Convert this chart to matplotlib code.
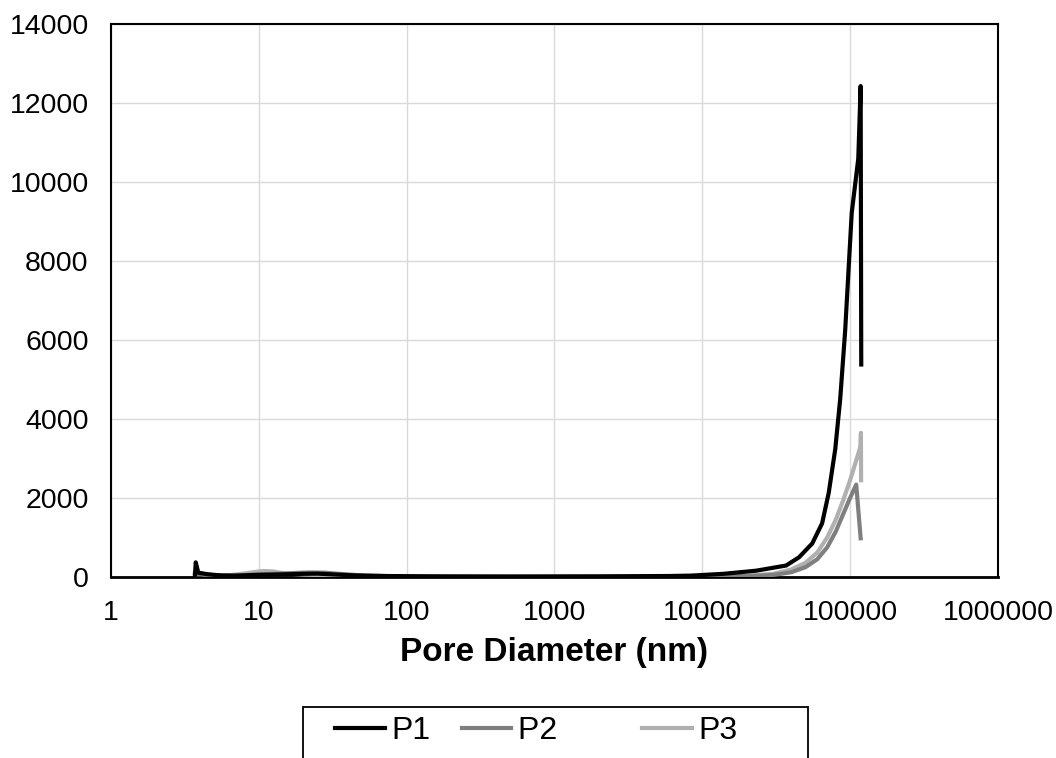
import matplotlib.pyplot as plt
from matplotlib.patches import Rectangle

plt.rcParams['font.family'] = ['Liberation Sans', 'DejaVu Sans']

# datos (diametro de poro en nm)
p1_x = [3.7, 3.75, 3.9, 4.5, 5.5, 7, 9, 12, 16, 20, 25, 32, 45, 70, 150, 500, 2000, 6000,
        8400, 13900, 23200, 36900, 45200, 55500, 64700, 71700, 79400, 85800, 92600,
        102600, 113600, 117900, 119000]
p1_y = [0, 370, 110, 70, 40, 35, 50, 60, 70, 80, 85, 65, 40, 25, 15, 10, 15, 25,
        35, 80, 160, 290, 500, 850, 1360, 2130, 3240, 4520, 6230,
        9220, 10590, 12430, 5380]

p2_x = [3.7, 4, 5, 6.5, 8, 10, 13, 17, 22, 28, 35, 50, 80, 200, 1000, 5000, 10000,
        20000, 30000, 40000, 50000, 60000, 70000, 80000, 90000, 100000, 110000, 117900]
p2_y = [60, 70, 40, 30, 45, 70, 80, 100, 115, 110, 80, 40, 20, 10, 10, 10, 15,
        20, 50, 120, 250, 450, 750, 1150, 1600, 2000, 2340, 980]

p3_x = [3.7, 4, 5, 6.5, 8, 10, 11, 12.5, 15, 20, 30, 50, 100, 1000, 10000,
        20000, 30000, 40000, 50000, 60000, 70000, 80000, 90000, 100000, 110000,
        117500, 118400, 118700]
p3_y = [100, 80, 40, 50, 90, 140, 150, 140, 90, 60, 40, 25, 15, 10, 12,
        30, 80, 190, 360, 620, 1000, 1450, 1950, 2450, 2950,
        3300, 3650, 2450]

series = ['P1', 'P2', 'P3']
colores = ['#000000', '#7f7f7f', '#b0b0b0']
x_ticks = [1, 10, 100, 1000, 10000, 100000, 1000000]
y_ticks = [0, 2000, 4000, 6000, 8000, 10000, 12000, 14000]

fig = plt.figure(figsize=(10.56, 7.58), dpi=100)
ax = fig.add_axes([0.105, 0.2388, 0.84, 0.7295])

datos = [(p1_x, p1_y), (p2_x, p2_y), (p3_x, p3_y)]
orden = [3, 2, 1]
for (xs, ys), nombre, c, z in zip(datos, series, colores, orden):
    ax.plot(xs, ys, color=c, lw=3, label=nombre, zorder=z + 2, solid_joinstyle='round')

ax.set_xscale('log')
ax.set_xlim(1, 1000000)
ax.set_ylim(0, 14000)
ax.set_xticks(x_ticks)
ax.set_xticklabels([str(t) for t in x_ticks])
ax.minorticks_off()
ax.set_yticks(y_ticks)
ax.set_yticklabels([str(t) for t in y_ticks])
ax.tick_params(axis='both', length=0, labelsize=20.5)
ax.tick_params(axis='y', pad=16)
ax.tick_params(axis='x', pad=16.5)
ax.grid(True, color='#d9d9d9', lw=1)
ax.set_axisbelow(True)
for s in ax.spines.values():
    s.set_color('black')
    s.set_linewidth(1.5)
ax.spines['bottom'].set_linewidth(2)

ax.set_xlabel('Pore Diameter (nm)', fontsize=24, fontweight='bold', labelpad=8)

# leyenda abajo, cortada por el borde de la figura
fig.patches.append(Rectangle((303 / 1056, 1 - 790 / 758), 505 / 1056, 83 / 758,
                             transform=fig.transFigure, fill=False, ec='black', lw=1.3))
handles, labels = ax.get_legend_handles_labels()
labels = ['P1', 'P2      ', 'P3']
fig.legend(handles, labels, loc='upper left', bbox_to_anchor=(335 / 1056, 1 - 716 / 758),
           ncol=3, fontsize=23, frameon=False, borderpad=0, borderaxespad=0,
           handlelength=1.55, handletextpad=0.2, columnspacing=1.0)

fig.savefig('out.png', dpi=100)
